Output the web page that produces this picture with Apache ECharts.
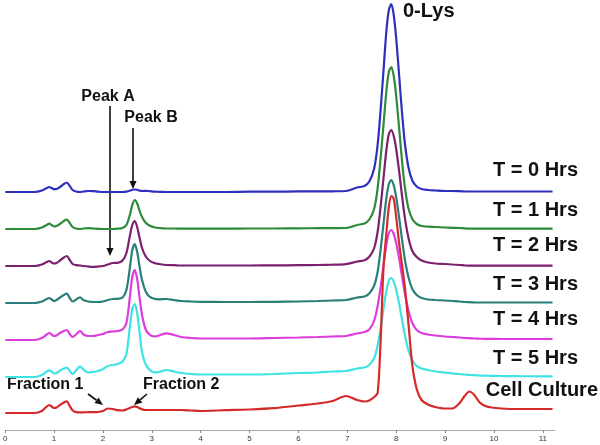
<!DOCTYPE html>
<html><head><meta charset="utf-8">
<script src="https://cdn.jsdelivr.net/npm/echarts@6/dist/echarts.min.js"></script>
<style>html,body{margin:0;padding:0;background:#fff}#c{width:600px;height:445px}</style>
</head><body><div id="c"></div>
<script>
// retention time (min) sampling grid
const xs = [0,0.3,0.6,0.75,0.85, 0.9,0.95,1.0,1.05,1.12, 1.2,1.26,1.32,1.38,1.45, 1.53,1.6,1.7,1.8,1.9,
  2.0,2.1,2.2,2.3,2.4, 2.48,2.55,2.6,2.65,2.7, 2.75,2.8,2.87,2.95,3.05, 3.15,3.3,3.45,3.6,3.8,
  4.0,4.5,5.0,5.5,6.0, 6.4,6.7,6.97,7.2,7.35, 7.45,7.55,7.62,7.68,7.74, 7.8,7.85,7.9,7.95,8.0,
  8.06,8.12,8.18,8.25,8.33, 8.42,8.52,8.65,8.8,9.0, 9.15,9.3,9.4,9.5,9.6, 9.7,9.8,9.95,10.15,10.5, 11.0,11.2];
const xTicks = [0,1,2,3,4,5,6,7,8,9,10,11];
const seriesNames = ['T = 0 Hrs','T = 1 Hrs','T = 2 Hrs','T = 3 Hrs','T = 4 Hrs','T = 5 Hrs','Cell Culture'];
// vertical stacking offset of each trace
const offsets = [238,201,164,127,90,53,17];
// signal above each trace's baseline
const t0 = [0,0,0,1.5,4, 5,4,2.8,3,5, 8,9.5,6,2,0.5, 0,0.5,1,0.8,0.3,
  0,0,0,0,0, 0.3,1.2,2.2,2.5,2.2, 1.4,1,1.2,0.9,0.4, 0.2,0,0,0,0,
  0,0,0.3,0.3,0.6, 0.6,0.7,1,4.5,6, 10.5,23.5,47,81,121, 161,182,188,177,154,
  117,79,48,25,11.5, 5.5,3,2,1.5,1, 1,0.8,0.6,0.5,0.5, 0.5,0.5,0.5,0.5,0.5, 0.5,0.5];
const t1 = [0,0,0,1.5,4, 5.3,4,2.5,3,5, 8,9.3,6,2,0.5, 0,0.5,0.8,0.5,0.2,
  0,0,0,0.3,1, 4,14,24,29,25.5, 18,12,6.5,3.5,1.8, 1,0.5,0.5,0.3,0.3,
  0.3,0.3,0.5,0.5,0.7, 0.8,0.9,1,4,5.5, 9.5,20.3,40.5,70,104, 138,157,162,153,133,
  101,68,41,21,10, 5,3,2.3,2,1.5, 1.2,1,0.6,0.4,0.4, 0.4,0.4,0.4,0.4,0.4, 0.4,0.4];
const t2 = [0,0,0,1.5,4, 5,3.5,2.5,3,5.5, 8.5,10,6,2,0.8, 0.5,0,-0.5,-0.8,-0.5,
  0,1.5,3,3.2,5.5, 13,30,41,45,39, 28,18,10,5.5,3, 2,1,0.8,0.5,0.5,
  0.5,0.5,0.5,0.6,0.8, 1,1.3,1.8,4.5,5.8, 9.2,18,34,58.5,87.6, 116,132,136,130,117,
  95,70,47.6,28.6,15, 9,5.5,3.5,2.5,2, 1.5,1,0.6,0.3,0.3, 0.3,0.3,0.3,0.3,0.3, 0.3,0.3];
const t3 = [0,0,0,1.5,4, 5,3.5,2,3,5.5, 8,9.3,5,1.5,3.5, 5.7,3,1.5,1,1,
  1.5,3,4,4.2,5.5, 13,35,53,59,51, 36,23,12,6.5,4.2, 3.7,4,3,2,1.5,
  1.2,1,1,1.2,1.5, 2,2.5,3,5.5,6.5, 9.5,17.5,31,53,79, 105,119,123,117.6,105.8,
  85.7,63.5,43,26,14, 8,5,3.5,3,2.5, 2,1.5,1,0.8,0.6, 0.5,0.5,0.5,0.5,0.5, 0.5,0.5];
const t4 = [0,0,0,2,5.5, 7,5.5,4,4.5,7, 9,10,6,3,5.5, 9,5.5,4,4,5,
  6,8,8.5,9,10.5, 17,43,63,70,61, 42,25,11,5.5,3.5, 4.5,6.7,5,3,2,
  1.5,1.5,1.5,2,2.5, 3,3.5,4,6.5,8, 10.5,19.5,34,52,74.6, 95.6,107,110,106,97,
  81.6,63.7,46,29.7,17, 10,7,5.5,4.5,3.5, 3,2.5,2,1.8,1.5, 1.3,1.2,1.1,1,1, 1,1];
const t5 = [0,0,0,2,5.5, 6.7,5.5,3.5,4,6.5, 8.5,9.3,6,3,6.5, 10.7,7.5,4.5,5,6,
  8,11,12,13,15.5, 23,50,68,73,64, 44,25,13,7.5,4.5, 5,7,5.5,4,3,
  2.5,2.5,2.5,3,4, 4.5,5.5,6,8.5,9.5, 12,19,31.5,48,68, 86,96.3,99,95.3,87.3,
  73.5,57.3,41.5,26.7,17, 11,8.5,7,5.5,4.5, 3.5,3,2.5,2,1.8, 1.5,1.3,1.2,1,0.8, 0.7,0.7];
const cell = [0,0,0,2,6.5, 8,6.5,5,5.5,8, 10.5,11.7,7,2.5,0.9, 0.7,0.7,0.8,0.8,1,
  2,4.5,4,2.8,2.5, 3.5,5,6,6.7,6, 4.7,3.7,3,3,3, 3,3,3,3,2.5,
  2,2.8,3.5,4.8,7.5, 9.5,12,17,13,11.5, 12.5,16,20,70,145, 180,206,217,214,196,
  170,148,125,90,48, 24,13,8.5,6,4.5, 4.5,10,17,21.5,18, 11,7.5,5.5,4.5,4, 4,4];
const signals = [t0,t1,t2,t3,t4,t5,cell];
const colors = ['#2f2fbf','#2e8b3a','#7b2170','#2a7f7a','#dd3ddd','#3fe3e3','#d42a2a'];

const chart = echarts.init(document.getElementById('c'), null, {renderer:'canvas'});
const F = 'Liberation Sans, Arial, sans-serif';
const series = signals.map((s,k)=>({
  name: seriesNames[k], type:'line', smooth:0.3, showSymbol:false, animation:false,
  lineStyle:{color:colors[k], width:2.2}, itemStyle:{color:colors[k]},
  data: xs.map((x,i)=>[x, offsets[k]+s[i]])
}));
function arrow(x1,y1,x2,y2){
  const dx=x2-x1, dy=y2-y1, L=Math.hypot(dx,dy), ux=dx/L, uy=dy/L, hl=8, hw=3.5;
  const bx=x2-ux*hl, by=y2-uy*hl;
  return [
    {type:'line', shape:{x1:x1,y1:y1,x2:bx,y2:by}, style:{stroke:'#111', lineWidth:1.6}},
    {type:'polygon', shape:{points:[[x2,y2],[bx-uy*hw,by+ux*hw],[bx+uy*hw,by-ux*hw]]}, style:{fill:'#111'}}
  ];
}
function txt(s,x,y,size,align){
  return {type:'text', x:x, y:y, style:{text:s, font:'bold '+size+'px '+F, fill:'#111', align:align||'left', verticalAlign:'middle'}};
}
const graphics = [
  txt('0-Lys',403,11,20),
  txt('T = 0 Hrs',578,170,20,'right'),
  txt('T = 1 Hrs',578,210,20,'right'),
  txt('T = 2 Hrs',578,245,20,'right'),
  txt('T = 3 Hrs',578,284,20,'right'),
  txt('T = 4 Hrs',578,319,20,'right'),
  txt('T = 5 Hrs',578,358,20,'right'),
  txt('Cell Culture',598,390,20,'right'),
  txt('Peak A',108,97,16,'center'),
  txt('Peak B',151,118,16,'center'),
  txt('Fraction 1',7,385,16,'left'),
  txt('Fraction 2',143,385,16,'left'),
  ...arrow(110,106,110,256),
  ...arrow(133,128,133,189),
  ...arrow(88,394,103,405),
  ...arrow(147,394,134,405)
];
chart.setOption({
  animation:false,
  backgroundColor:'#fff',
  grid:{left:3, right:45, top:0, bottom:15, containLabel:false},
  xAxis:{type:'value', min:0, max:11.25, interval:1,
    splitLine:{show:false},
    axisLine:{lineStyle:{color:'#aaa', width:1}},
    axisTick:{length:3, lineStyle:{color:'#888'}, customValues:xTicks},
    axisLabel:{fontSize:8, color:'#333', margin:5, fontFamily:F, customValues:xTicks}},
  yAxis:{type:'value', min:0, max:430, show:false},
  series: series,
  graphic: graphics
});
</script></body></html>
